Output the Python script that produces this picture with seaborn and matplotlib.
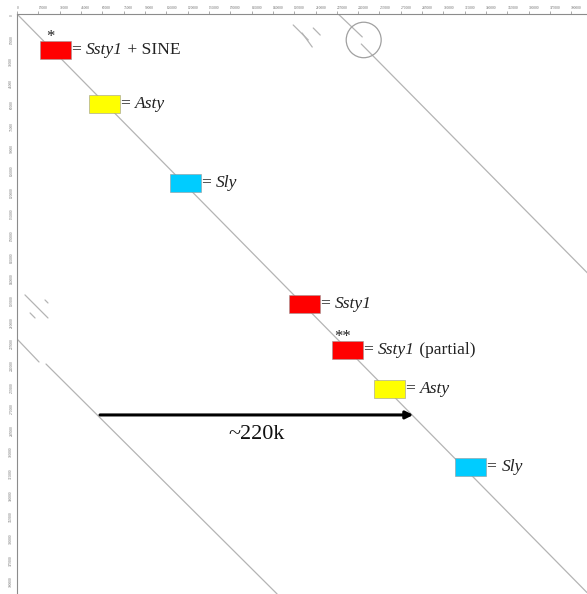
import matplotlib
matplotlib.use('Agg')
import matplotlib.pyplot as plt
from matplotlib.patches import Rectangle, Circle
from matplotlib.offsetbox import TextArea, HPacker, AnnotationBbox
import numpy as np
import pandas as pd
import seaborn as sns

sns.set_style('white')
plt.rcParams['font.family'] = ['Liberation Serif', 'DejaVu Serif']

# Sequence length (bp) shown on both axes
x_len = 401000
y_len = 402000

# Dot plot hits (bp): start x, start y, end x, end y
hit_x0 = [0, 226000, 242200, 0, 20400, 5600, 9200, 19700, 194300, 208400, 200600]
hit_y0 = [0, 0, 20800, 225200, 242600, 194700, 207200, 198200, 7600, 9700, 13200]
hit_x1 = [401000, 242900, 401300, 15500, 183000, 21800, 12700, 21800, 204900, 213300, 207700]
hit_y1 = [401000, 15900, 179500, 241200, 402000, 210700, 210700, 200300, 18000, 14600, 22900]

# Annotated elements along the diagonal (box centres, bp)
elem_type = ['Ssty1', 'Asty', 'Sly', 'Ssty1', 'Ssty1', 'Asty', 'Sly']
elem_x = [27100, 61600, 118600, 202400, 232700, 262200, 319300]
elem_y = [25000, 62400, 117200, 201000, 232900, 259900, 314000]
elem_note = [' + SINE', '', '', '', ' (partial)', '', '']
elem_mark = ['*', '', '', '', '**', '', '']

# ~220k duplication arrow and highlighted break
arrow_start = 58400
arrow_end = 278800
arrow_y = 277900
circle_x = 243900
circle_y = 18000

tick_pos = np.arange(0, 400000, 15000)
tick_labels = [str(t) for t in tick_pos]

colors = {'Ssty1': '#ff0000', 'Asty': '#ffff00', 'Sly': '#00ccff'}

hits = pd.DataFrame({
    'hit': list(range(len(hit_x0))) * 2,
    'x': hit_x0 + hit_x1,
    'y': hit_y0 + hit_y1,
})

fig = plt.figure(figsize=(5.87, 5.94), dpi=100)
ax = fig.add_axes([17 / 587, 0, 570 / 587, 580 / 594])

sns.lineplot(data=hits, x='x', y='y', units='hit', estimator=None, sort=False,
             color='#b4b4b4', linewidth=0.9, legend=False, ax=ax)

box_w = 21800
box_h = 12500
fs = 12.6
for t, x, y, note, mk in zip(elem_type, elem_x, elem_y, elem_note, elem_mark):
    ax.add_patch(Rectangle((x - box_w / 2, y - box_h / 2), box_w, box_h,
                           facecolor=colors[t], edgecolor='#999999', linewidth=0.4, zorder=3))
    parts = [TextArea('= ', textprops=dict(fontsize=fs, color='#222222')),
             TextArea(t, textprops=dict(fontsize=fs, color='#222222', style='italic'))]
    if note:
        parts.append(TextArea(note, textprops=dict(fontsize=fs, color='#222222')))
    label = HPacker(children=parts, align='baseline', pad=0, sep=0)
    ab = AnnotationBbox(label, (x + box_w / 2 + 500, y), box_alignment=(0, 0.5),
                        frameon=False, pad=0, zorder=4)
    ax.add_artist(ab)
    if mk:
        ax.text(x - 3500, y - box_h / 2 + 2800, mk, fontsize=12, color='#222222',
                ha='center', va='bottom', zorder=4)

ax.annotate('', xy=(arrow_end, arrow_y), xytext=(arrow_start, arrow_y),
            arrowprops=dict(arrowstyle='-|>', color='black', lw=2.2,
                            mutation_scale=11, shrinkA=0, shrinkB=0))
ax.text((arrow_start + arrow_end) / 2, arrow_y + 7000, '~220k', fontsize=16,
        color='#111111', ha='center', va='top')

ax.add_patch(Circle((circle_x, circle_y), 12300, fill=False,
                    edgecolor='#a0a0a0', linewidth=0.9, zorder=2))

ax.set_xlim(0, x_len)
ax.set_ylim(y_len, 0)
ax.set_xlabel('')
ax.set_ylabel('')

ax.xaxis.tick_top()
ax.set_xticks(tick_pos)
ax.set_xticklabels(tick_labels, fontsize=2.6, ha='left', color='#666666')
ax.set_yticks(tick_pos)
ax.set_yticklabels(tick_labels, fontsize=2.6, rotation=90, va='top', color='#666666')
ax.tick_params(axis='both', length=2, width=0.5, pad=0.6, color='#888888')

for side in ['right', 'bottom']:
    ax.spines[side].set_visible(False)
for side in ['top', 'left']:
    ax.spines[side].set_color('#8c8c8c')
    ax.spines[side].set_linewidth(0.8)

fig.savefig('out.png', dpi=100)
